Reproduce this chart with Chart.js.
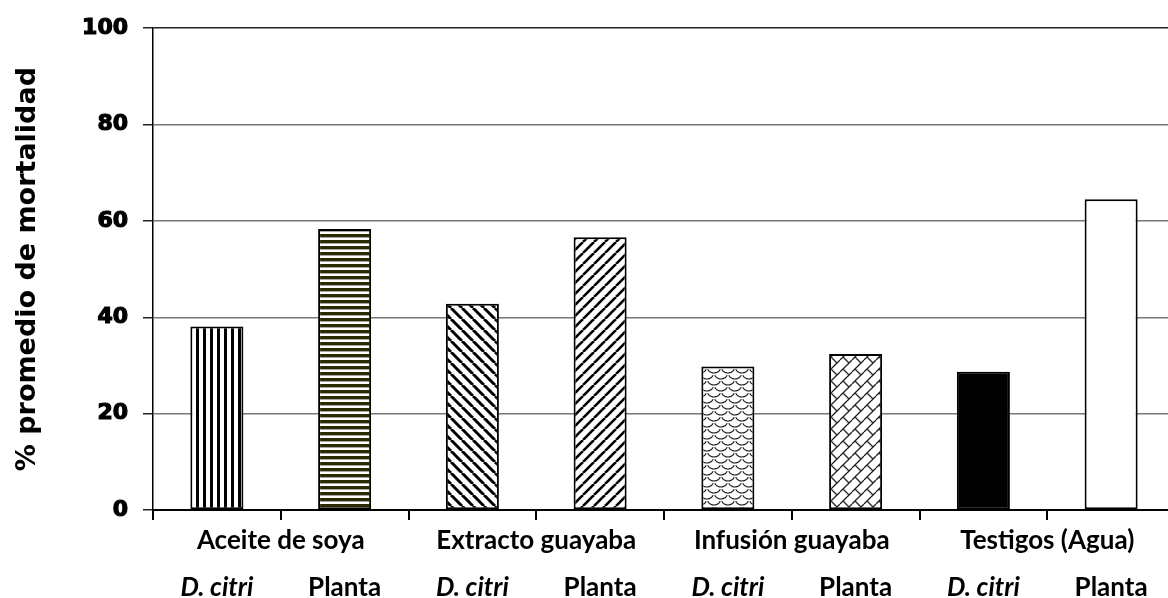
<!DOCTYPE html>
<html>
<head>
<meta charset="utf-8">
<script src="https://cdn.jsdelivr.net/npm/chart.js@4.4.1/dist/chart.umd.min.js"></script>
<style>
  html, body { margin: 0; padding: 0; background: #fff; overflow: hidden; }
  #wrap { width: 1176px; height: 598px; }
</style>
</head>
<body>
<div id="wrap"><canvas id="mortChart" width="1176" height="598"></canvas></div>
<script>
const groups = ['Aceite de soya', 'Extracto guayaba', 'Infusión guayaba', 'Testigos (Agua)'];
const categories = ['D. citri', 'Planta', 'D. citri', 'Planta', 'D. citri', 'Planta', 'D. citri', 'Planta'];
const mortality = [38.1, 58.3, 42.8, 56.6, 29.8, 32.4, 28.7, 64.5];
const yMin = 0;
const yMax = 100;
const yStep = 20;

function tile(w, h, draw) {
    const c = document.createElement('canvas');
    c.width = w;
    c.height = h;
    const g = c.getContext('2d');
    g.fillStyle = '#fff';
    g.fillRect(0, 0, w, h);
    draw(g, w, h);
    return document.getElementById('mortChart').getContext('2d').createPattern(c, 'repeat');
}

function diag(g, s, dir, width) {
    g.strokeStyle = '#000';
    g.lineWidth = width;
    for (const k of [-s, 0, s]) {
        g.beginPath();
        if (dir > 0) {
            g.moveTo(k, s);
            g.lineTo(k + s, 0);
        } else {
            g.moveTo(k, 0);
            g.lineTo(k + s, s);
        }
        g.stroke();
    }
}

const fills = [
    tile(7, 7, (g) => { g.fillStyle = '#000'; g.fillRect(0, 0, 3, 7); }),
    tile(6, 6, (g) => {
        g.fillStyle = '#2b2b00'; g.fillRect(0, 0, 6, 3);
        g.fillStyle = '#a8a8a0'; g.fillRect(0, 3, 6, 1);
    }),
    tile(11, 11, (g, s) => diag(g, s, -1, 3)),
    tile(11, 11, (g, s) => diag(g, s, 1, 2.6)),
    // shingle-like waves
    tile(14, 12, (g) => {
        g.strokeStyle = '#222';
        g.lineWidth = 1.2;
        for (const [cx, cy] of [[7, 0], [0, 6], [14, 6], [7, 12], [0, -6], [14, -6]]) {
            g.beginPath(); g.arc(cx, cy, 7, 0.15 * Math.PI, 0.85 * Math.PI); g.stroke();
        }
    }),
    // diagonal brick
    tile(12, 12, (g, s) => {
        g.strokeStyle = '#222';
        g.lineWidth = 1.3;
        for (const k of [-s, 0, s]) {
            g.beginPath(); g.moveTo(k, s); g.lineTo(k + s, 0); g.stroke();
        }
        for (const [x, y] of [[3, 9], [3, -3]]) {
            g.beginPath(); g.moveTo(x, y); g.lineTo(x + 6, y + 6); g.stroke();
        }
    }),
    '#000',
    '#fff'
];

const groupLabels = {
    id: 'groupLabels',
    afterDraw(chart) {
        const ctx = chart.ctx;
        const x = chart.scales.x;
        ctx.save();
        ctx.font = 'bold 26px Lato';
        ctx.fillStyle = '#000';
        ctx.textAlign = 'center';
        ctx.textBaseline = 'alphabetic';
        groups.forEach((name, i) => {
            const cx = (x.getPixelForValue(2 * i) + x.getPixelForValue(2 * i + 1)) / 2;
            ctx.fillText(name, cx, 549);
        });
        ctx.restore();
    }
};

new Chart(document.getElementById('mortChart'), {
    type: 'bar',
    data: {
        labels: categories,
        datasets: [{
            data: mortality,
            backgroundColor: fills,
            borderColor: '#000',
            borderWidth: 2,
            borderSkipped: false,
            barPercentage: 0.415,
            categoryPercentage: 1
        }]
    },
    plugins: [groupLabels],
    options: {
        responsive: false,
        animation: false,
        layout: { padding: { top: 25, right: 1, left: 0, bottom: 0 } },
        plugins: {
            legend: { display: false },
            tooltip: { enabled: false }
        },
        scales: {
            x: {
                offset: true,
                afterFit: (scale) => {
                    scale.height = 88;
                    scale.paddingLeft = 0;
                    scale.paddingRight = 0;
                },
                border: { color: '#000', width: 2 },
                grid: {
                    offset: true,
                    drawOnChartArea: false,
                    drawTicks: true,
                    tickLength: 10,
                    color: '#000',
                    lineWidth: 2
                },
                ticks: {
                    color: '#000',
                    padding: 52,
                    maxRotation: 0,
                    autoSkip: false,
                    font: (c) => ({
                        family: 'Lato',
                        size: 26,
                        weight: 'bold',
                        style: c.index % 2 === 0 ? 'italic' : 'normal'
                    })
                }
            },
            y: {
                min: yMin,
                max: yMax,
                afterFit: (scale) => { scale.width = 153; },
                border: { color: '#000', width: 1.5 },
                grid: {
                    color: (c) => c.tick && c.tick.value === yMax ? '#222' : '#777',
                    tickColor: '#222',
                    lineWidth: 1.5,
                    tickLength: 10
                },
                ticks: {
                    stepSize: yStep,
                    color: '#000',
                    padding: 15,
                    textStrokeColor: '#000',
                    textStrokeWidth: 1.2,
                    font: { family: 'DejaVu Sans', size: 22, weight: 'bold' }
                },
                title: {
                    display: true,
                    text: '% promedio de mortalidad',
                    color: '#000',
                    align: 'center',
                    padding: { top: 13, bottom: 0 },
                    font: { family: 'DejaVu Sans', size: 27, weight: 'bold', lineHeight: 1.1 }
                }
            }
        }
    }
});
</script>
</body>
</html>
